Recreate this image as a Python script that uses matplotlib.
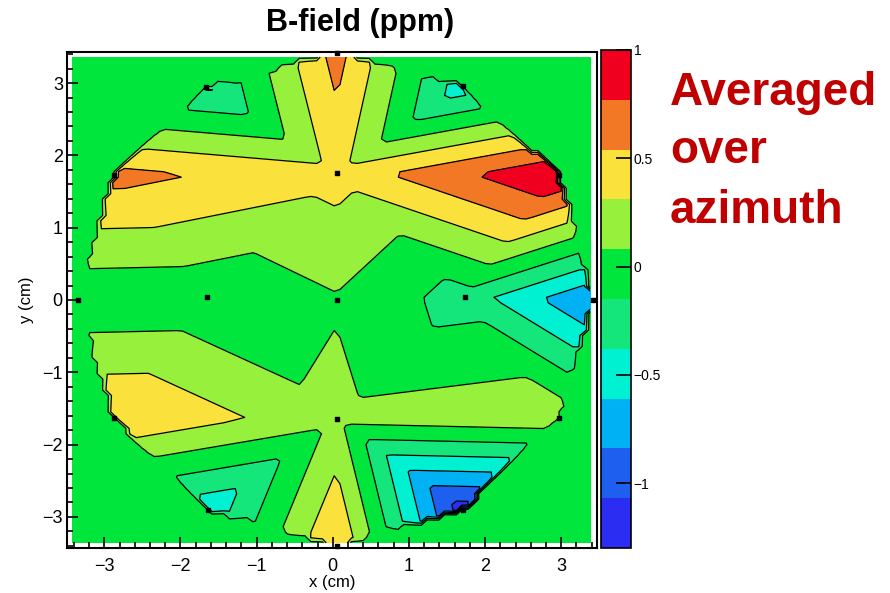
import numpy as np
import matplotlib
matplotlib.use("Agg")
import matplotlib.pyplot as plt
import matplotlib.tri as mtri
from matplotlib.ticker import MultipleLocator

plt.rcParams['font.family'] = ['Liberation Sans', 'DejaVu Sans']

# probe positions (cm): centre, inner ring (r~1.7), outer ring (r~3.4, every 30 deg)
probe_x = [0.05, 1.73, 0.05, -1.65, 0.05,
           3.42, 2.97, 1.71, 0.05, -1.66, -2.87, -3.35, -2.87, -1.64, 0.05, 1.71, 2.97]
probe_y = [0.0, 0.04, 1.75, 0.04, -1.65,
           0.0, 1.73, 2.96, 3.42, 2.95, 1.73, 0.0, -1.63, -2.9, -3.4, -2.9, -1.63]
# field deviation at each probe (ppm), averaged over azimuth
field_ppm = [0.06, -0.25, 0.40, -0.10, 0.15,
             -0.85, 1.00, -0.52, 0.63, -0.42, 0.62, -0.10, 0.55, -0.55, 0.55, -1.20, 0.25]

# mesh connecting the probes (0 centre, 1-4 inner ring, 5-16 outer ring)
mesh = [[0, 1, 2], [0, 2, 3], [0, 3, 4], [0, 4, 1],
        [1, 5, 6], [1, 6, 2], [2, 6, 7], [2, 7, 8],
        [2, 8, 9], [2, 9, 10], [2, 10, 3], [3, 10, 11],
        [3, 11, 12], [3, 12, 4], [4, 12, 13], [4, 13, 14],
        [4, 14, 15], [4, 15, 16], [4, 16, 1], [1, 16, 5]]

z_min, z_max = -1.3, 1.0
n_bands = 10
band_colors = ['#2b2df2', '#1f5ff0', '#00b2f4', '#00f0d2', '#14e67c',
               '#00e63c', '#96f03c', '#fae13c', '#f27826', '#f0001e']
cbar_ticks = [-1, -0.5, 0, 0.5, 1]
cbar_labels = ['\u22121', '\u22120.5', '0', '0.5', '1']

fig = plt.figure(figsize=(8.9, 5.93), dpi=100)
ax = fig.add_axes([0.0753, 0.0759, 0.5955, 0.8364])
cax = fig.add_axes([0.6753, 0.0759, 0.0337, 0.8398])

# interpolate onto a grid, zero outside the probe hull
tri = mtri.Triangulation(probe_x, probe_y, triangles=mesh)
interp = mtri.LinearTriInterpolator(tri, field_ppm)
gx = np.linspace(-3.42, 3.38, 90)
gy = np.linspace(-3.36, 3.36, 90)
GX, GY = np.meshgrid(gx, gy)
GZ = interp(GX, GY).filled(0.0)

levels = np.linspace(z_min, z_max, n_bands + 1)
cf = ax.contourf(GX, GY, GZ, levels=levels, colors=band_colors)
ax.contour(GX, GY, GZ, levels=levels[1:-1], colors='k', linewidths=0.9,
           linestyles='solid')
ax.scatter(probe_x, probe_y, marker='s', s=7, color='k', zorder=5, clip_on=False)

ax.set_xlim(-3.49, 3.47)
ax.set_ylim(-3.43, 3.43)
ax.xaxis.set_major_locator(MultipleLocator(1))
ax.xaxis.set_minor_locator(MultipleLocator(0.2))
ax.yaxis.set_major_locator(MultipleLocator(1))
ax.yaxis.set_minor_locator(MultipleLocator(0.2))
ax.tick_params(which='both', direction='in', width=1.2)
ax.tick_params(which='major', length=8, labelsize=13)
ax.tick_params(which='minor', length=4)
ax.tick_params(axis='x', pad=7)
ax.tick_params(axis='y', pad=3)
for s in ax.spines.values():
    s.set_linewidth(1.5)

ax.set_xlabel('x (cm)', fontsize=12, labelpad=0)
ax.set_ylabel('y (cm)', fontsize=12, labelpad=6)

fig.text(0.405, 0.962, 'B-field (ppm)', fontsize=22, fontweight='bold',
         ha='center', va='center')

cb = fig.colorbar(cf, cax=cax, ticks=cbar_ticks)
cb.ax.set_yticklabels(cbar_labels)
cb.ax.tick_params(direction='in', length=11, width=1.2, labelsize=10, pad=2)
cb.outline.set_linewidth(1.2)
cb.ax.minorticks_off()

for line, yb in zip(['Averaged', 'over', 'azimuth'], [105, 163, 223]):
    fig.text(670 / 890, 1 - yb / 593, line, fontsize=33, fontweight='bold',
             color='#c00000', ha='left', va='baseline')

fig.savefig('out.png', dpi=100)
